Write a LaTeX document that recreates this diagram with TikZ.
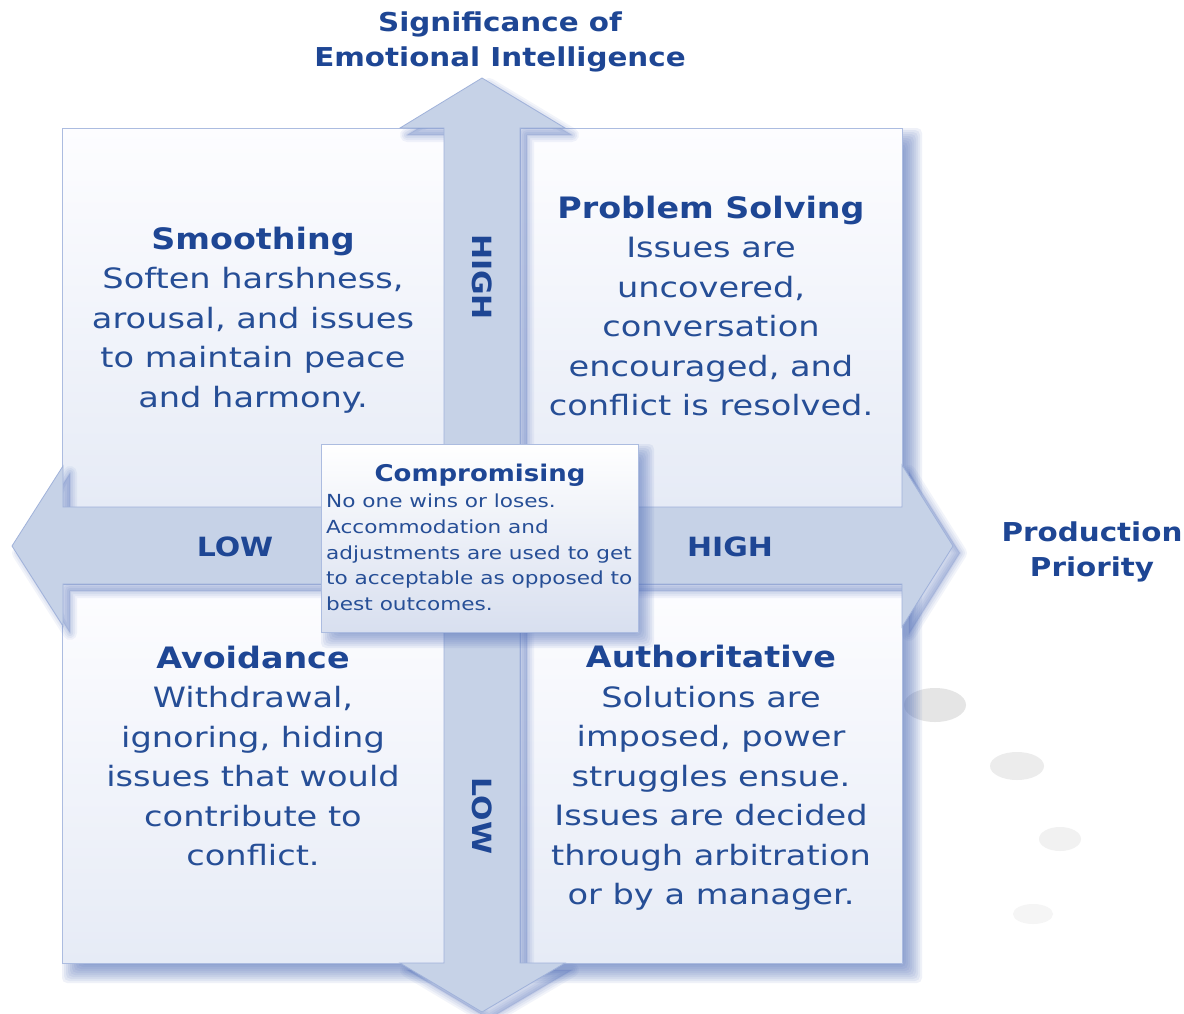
\documentclass[tikz,border=0pt]{standalone}
\usepackage{fontspec}
\setmainfont{DejaVu Sans}[FakeStretch=1.2, BoldFeatures={FakeStretch=1.13}]
\usetikzlibrary{shapes.geometric}
\definecolor{arrowfill}{RGB}{198,210,231}
\definecolor{arrowedge}{RGB}{160,178,218}
\definecolor{boxedge}{RGB}{172,188,224}
\definecolor{titleblue}{RGB}{30,70,148}
\definecolor{bodyblue}{RGB}{38,78,150}
\definecolor{shadowcol}{RGB}{80,110,185}
\definecolor{boxtop}{RGB}{253,253,255}
\definecolor{boxbot}{RGB}{230,235,246}
\definecolor{compbot}{RGB}{216,223,239}
% blurred rectangular shadow: x1 y1 x2 y2 (already offset)
\newcommand{\blurbox}[4]{%
  \foreach \e in {-10,-8,...,10}{%
    \fill[shadowcol, opacity=0.09, rounded corners=5pt] ({#1-\e},{#2-\e}) rectangle ({#3+\e},{#4+\e});}}
\newcommand{\arrowpath}{(482,78) -- (565,128) -- (520,128) -- (520,507) -- (902,507) -- (902,465) -- (953,546) -- (902,627) -- (902,584) -- (520,584) -- (520,963) -- (565,963) -- (482,1012) -- (400,963) -- (444,963) -- (444,584) -- (63,584) -- (63,626) -- (12,546) -- (63,466) -- (63,507) -- (444,507) -- (444,128) -- (400,128) -- cycle}
\newcommand{\qtitle}{\fontsize{29.5}{40}\bfseries\selectfont\color{titleblue}}
\newcommand{\ctitle}{\fontsize{23}{26}\bfseries\selectfont\color{titleblue}}
\begin{document}
\begin{tikzpicture}[x=1pt,y=-1pt,
  qbox/.style={rectangle, draw=boxedge, line width=1pt, inner sep=0pt},
  upbox/.style={qbox, top color=boxtop, bottom color=boxbot},
  quadtext/.style={align=center, inner sep=0pt, text=bodyblue, font=\fontsize{28}{39.5}\selectfont},
  axislabel/.style={inner sep=0pt, text=titleblue, font=\fontsize{26.5}{30}\bfseries\selectfont},
  headlabel/.style={align=center, inner sep=0pt, text=titleblue, font=\fontsize{26}{35}\bfseries\selectfont}]
\useasboundingbox[fill=white] (0,0) rectangle (1184,1013);

% decorative grey ellipses
\fill[gray!20] (935,705) ellipse [x radius=31, y radius=17];
\fill[gray!15] (1017,766) ellipse [x radius=27, y radius=14];
\fill[gray!11] (1060,839) ellipse [x radius=21, y radius=12];
\fill[gray!8] (1033,914) ellipse [x radius=20, y radius=10];

% box shadows
\blurbox{72}{138}{912}{517}
\blurbox{72}{594}{912}{973}

% quadrant boxes
\node[upbox, minimum width=382pt, minimum height=379pt] (tl) at (253,317.5) {};
\node[upbox, minimum width=382pt, minimum height=379pt] (tr) at (711,317.5) {};
\node[upbox, minimum width=382pt, minimum height=379pt] (bl) at (253,773.5) {};
\node[upbox, minimum width=382pt, minimum height=379pt] (br) at (711,773.5) {};

% arrow shadow (falls on the boxes)
\begin{scope}[shift={(7,7)}]
  \foreach \w/\o in {14/0.07,10/0.08,6/0.09,2/0.10}{%
    \draw[shadowcol, line width=\w pt, opacity=\o, line join=round] \arrowpath;}
  \fill[shadowcol, opacity=0.28] \arrowpath;
\end{scope}

% four-way arrow
\filldraw[fill=arrowfill, draw=arrowedge, line width=0.8pt, line join=miter] \arrowpath;

% centre box
\blurbox{331}{454}{644}{638}
\node[qbox, top color=white, bottom color=compbot, minimum width=317pt, minimum height=188pt] (comp) at (479.5,538) {};

% axis labels
\node[axislabel, rotate=-90] (vhigh) at (482,277) {HIGH};
\node[axislabel, rotate=-90] (vlow) at (482,816) {LOW};
\node[axislabel] (hlow) at (235,547) {LOW};
\node[axislabel] (hhigh) at (730,547) {HIGH};

% headings
\node[headlabel] (sig) at (500,42) {Significance of\\Emotional Intelligence};
\node[headlabel] (prod) at (1092,552) {Production\\Priority};

% quadrant texts
\node[quadtext] (smooth) at (253,320) {{\qtitle Smoothing}\\Soften harshness,\\arousal, and issues\\to maintain peace\\and harmony.};
\node[quadtext] (solve) at (711,306) {{\qtitle Problem Solving}\\Issues are\\uncovered,\\conversation\\encouraged, and\\conflict is resolved.};
\node[quadtext] (avoid) at (253,756) {{\qtitle Avoidance}\\Withdrawal,\\ignoring, hiding\\issues that would\\contribute to\\conflict.};
\node[quadtext] (auth) at (711,778) {{\qtitle Authoritative}\\Solutions are\\imposed, power\\struggles ensue.\\Issues are decided\\through arbitration\\or by a manager.};

% compromising texts
\node[inner sep=0pt, font=\ctitle] (comptitle) at (480,475) {Compromising};
\node[anchor=north west, align=left, inner sep=0pt, text=bodyblue, font=\fontsize{18}{25.7}\selectfont] (compbody) at (326,494) {No one wins or loses.\\Accommodation and\\adjustments are used to get\\to acceptable as opposed to\\best outcomes.};
\end{tikzpicture}
\end{document}
